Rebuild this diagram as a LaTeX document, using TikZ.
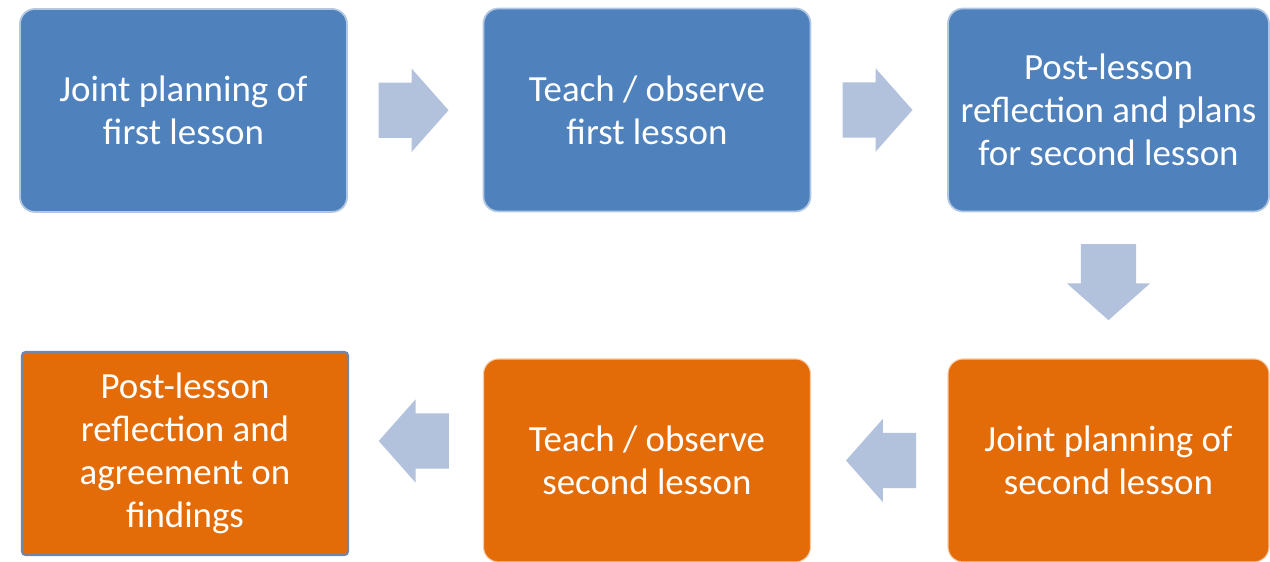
\documentclass[tikz,border=0pt]{standalone}
\usepackage{fontspec}
\setmainfont{Carlito}
\usepackage{tikz}
\usetikzlibrary{shapes.arrows}
\usetikzlibrary{calc}
\definecolor{box-blue}{HTML}{4F81BD}
\definecolor{box-orange}{HTML}{E36C09}
\definecolor{arrow-blue}{HTML}{B3C2DC}
\definecolor{edge-gray}{HTML}{7386A6}
\tikzset{
every picture/.style={line width=0.8pt, >=stealth},
%%%%%%%%%%  Node styles
stage/.style={rectangle, rounded corners=0.3cm, minimum width=6.54cm,
              minimum height=4.06cm, inner sep=2pt, align=center,
              text=white, font=\fontsize{21}{24.5}\selectfont},
blue_stage/.style={stage, fill=box-blue, draw=box-blue!45!white, line width=1pt},
orange_stage/.style={stage, fill=box-orange, draw=box-orange!35!white, line width=0.6pt},
%% the last one is drawn with a darker frame
picked_stage/.style={stage, fill=box-orange, draw=edge-gray, line width=1.2pt,
              rounded corners=2pt},
%%%%%%% block arrows (shaft width comes from inner ysep)
flow_arrow/.style={single arrow, fill=arrow-blue, draw=none,
              inner xsep=0pt, inner ysep=0.54cm,
              minimum height=1.4cm, minimum width=1.64cm,
              single arrow head extend=0.28cm, single arrow tip angle=97}
}

\begin{document}
\begin{tikzpicture}
\useasboundingbox (0,0) rectangle (25.4,11.24);
%% top row
\node[blue_stage] (j1) at (3.67,9.03) {Joint planning of\\first lesson};
\node[blue_stage] (t1) at (12.94,9.04) {Teach / observe\\first lesson};
\node[blue_stage, minimum width=6.42cm] (r1) at (22.17,9.04)
	{Post-lesson\\reflection and plans\\for second lesson};
%% bottom row
\node[orange_stage, minimum width=6.42cm] (j2) at (22.17,2.03)
	{Joint planning of\\second lesson};
\node[orange_stage] (t2) at (12.94,2.03) {Teach / observe\\second lesson};
\node[picked_stage, minimum width=6.52cm] (r2) at (3.70,2.17)
	{Post-lesson\\reflection and\\agreement on\\findings};
%% arrows between the stages
%% (the centre of a single arrow sits on its shaft, hence the shifts)
\node[flow_arrow] (a1) at ($(j1.east)!0.5!(t1.west)+(-0.28,0)$) {};
\node[flow_arrow] (a2) at ($(t1.east)!0.5!(r1.west)+(-0.28,0)$) {};
\node[flow_arrow, rotate=-90, minimum height=1.52cm] (a3) at ($(r1.south)!0.5!(j2.north)+(0,0.31)$) {};
\node[flow_arrow, rotate=180] (a4) at ($(j2.west)!0.5!(t2.east)+(0.28,0)$) {};
\node[flow_arrow, rotate=180] (a5) at ($(t2.west)!0.5!(r2.east)+(0.2,0.32)$) {};
\end{tikzpicture}
\end{document}
